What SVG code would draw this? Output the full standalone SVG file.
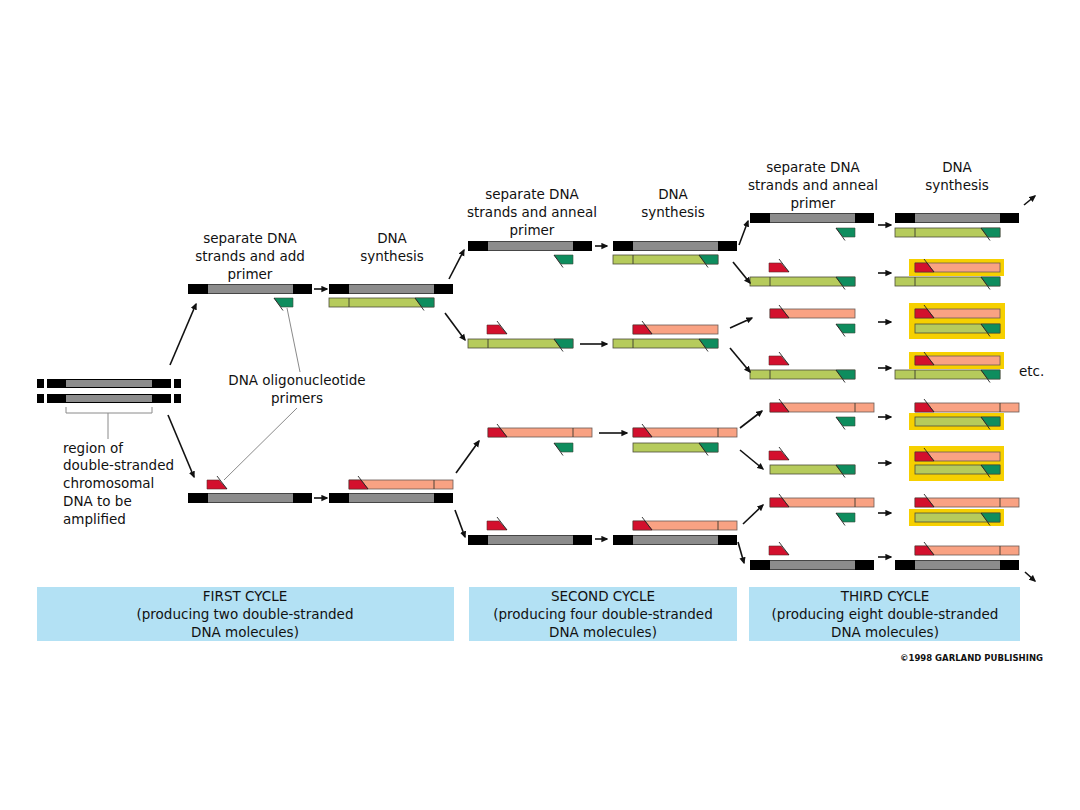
<svg xmlns="http://www.w3.org/2000/svg" width="1080" height="810" viewBox="0 0 1080 810">
<style>
text{font-family:"DejaVu Sans","Liberation Sans",sans-serif;font-size:13.5px;fill:#111}
.c{text-anchor:middle}
.lg{fill:#b6cb5c;stroke:#4d4d3a;stroke-width:0.8}
.dg{fill:#0e8d5e;stroke:#3a4a3a;stroke-width:0.6}
.sa{fill:#f9a283;stroke:#6a5a55;stroke-width:0.8}
.rd{fill:#d3102d;stroke:#5a2a2a;stroke-width:0.6}
.dv{stroke:#3a3a30;stroke-width:0.9}
.tl{stroke:#222;stroke-width:0.9}
.yb{fill:#f6d000}
.bx{fill:#b3e1f4}
.ar{stroke:#111;stroke-width:1.6;fill:none;marker-end:url(#ah)}
.lbl{stroke:#8a8a8a;stroke-width:1;fill:none}
</style>
<defs>
<marker id="ah" viewBox="0 0 10 10" refX="8" refY="5" markerWidth="7" markerHeight="7" markerUnits="userSpaceOnUse" orient="auto"><path d="M0,0.5 L10,5 L0,9.5 Z" fill="#111"/></marker>
<g id="duplex"><rect width="124" height="10" fill="#000"/><rect x="20" y="0.5" width="85" height="9" fill="#8c8c8c"/></g>
<g id="gfull"><rect width="105" height="9" class="lg"/><path d="M86,0 H105 V9 H93 Z" class="dg"/><line x1="20" y1="0" x2="20" y2="9" class="dv"/><line x1="86" y1="0" x2="95" y2="12.5" class="tl"/></g>
<g id="gshort"><rect x="20" width="85" height="9" class="lg"/><path d="M86,0 H105 V9 H93 Z" class="dg"/><line x1="86" y1="0" x2="95" y2="12.5" class="tl"/></g>
<g id="gprim"><path d="M86,0 H105 V9 H93 Z" class="dg"/><line x1="86" y1="0" x2="95" y2="12.5" class="tl"/></g>
<g id="sfull"><rect x="20" width="104" height="9" class="sa"/><path d="M20,0 H32 L39,9 H20 Z" class="rd"/><line x1="105" y1="0" x2="105" y2="9" class="dv"/><line x1="39" y1="9" x2="29" y2="-4" class="tl"/></g>
<g id="sshort"><rect x="20" width="85" height="9" class="sa"/><path d="M20,0 H32 L39,9 H20 Z" class="rd"/><line x1="39" y1="9" x2="29" y2="-4" class="tl"/></g>
<g id="rprim"><path d="M19,0 H31 L39,9 H19 Z" class="rd"/><line x1="39" y1="9" x2="29" y2="-4" class="tl"/></g>
</defs>
<rect width="1080" height="810" fill="#fff"/>

<g id="chromosome">
<rect x="37" y="379" width="7" height="9" fill="#000"/><rect x="47" y="379" width="124" height="9" fill="#000"/><rect x="66" y="380" width="86" height="7" fill="#8c8c8c"/><rect x="174" y="379" width="7" height="9" fill="#000"/>
<rect x="37" y="394" width="7" height="9" fill="#000"/><rect x="47" y="394" width="124" height="9" fill="#000"/><rect x="66" y="395" width="86" height="7" fill="#8c8c8c"/><rect x="174" y="394" width="7" height="9" fill="#000"/>
<path d="M66,407 V413 H152 V407 M108,413 V439" class="lbl"/>
<text x="63" y="453">region of</text>
<text x="63" y="470">double-stranded</text>
<text x="63" y="488">chromosomal</text>
<text x="63" y="506">DNA to be</text>
<text x="63" y="524">amplified</text>
</g>

<g id="primers-label">
<text x="297" y="385" class="c">DNA oligonucleotide</text>
<text x="297" y="403" class="c">primers</text>
<path d="M300,372 L287,308 M297,408 L224,480" class="lbl"/>
</g>

<g id="headers">
<text x="250" y="243" class="c">separate DNA</text><text x="250" y="261" class="c">strands and add</text><text x="250" y="279" class="c">primer</text>
<text x="392" y="243" class="c">DNA</text><text x="392" y="261" class="c">synthesis</text>
<text x="532" y="199" class="c">separate DNA</text><text x="532" y="217" class="c">strands and anneal</text><text x="532" y="235" class="c">primer</text>
<text x="673" y="199" class="c">DNA</text><text x="673" y="217" class="c">synthesis</text>
<text x="813" y="172" class="c">separate DNA</text><text x="813" y="190" class="c">strands and anneal</text><text x="813" y="208" class="c">primer</text>
<text x="957" y="172" class="c">DNA</text><text x="957" y="190" class="c">synthesis</text>
</g>

<g id="cycle1">
<g id="c1-a-sep"><use href="#duplex" x="188" y="284"/><use href="#gprim" x="188" y="298"/></g>
<g id="c1-a-syn"><use href="#duplex" x="329" y="284"/><use href="#gfull" x="329" y="298"/></g>
<g id="c1-b-sep"><use href="#rprim" x="188" y="480"/><use href="#duplex" x="188" y="493"/></g>
<g id="c1-b-syn"><use href="#sfull" x="329" y="480"/><use href="#duplex" x="329" y="493"/></g>
</g>

<g id="cycle2">
<g id="c2-a-sep"><use href="#duplex" x="468" y="241"/><use href="#gprim" x="468" y="255"/></g>
<g id="c2-a-syn"><use href="#duplex" x="613" y="241"/><use href="#gfull" x="613" y="255"/></g>
<g id="c2-b-sep"><use href="#rprim" x="468" y="325"/><use href="#gfull" x="468" y="339"/></g>
<g id="c2-b-syn"><use href="#sshort" x="613" y="325"/><use href="#gfull" x="613" y="339"/></g>
<g id="c2-c-sep"><use href="#sfull" x="468" y="428"/><use href="#gprim" x="468" y="443"/></g>
<g id="c2-c-syn"><use href="#sfull" x="613" y="428"/><use href="#gshort" x="613" y="443"/></g>
<g id="c2-d-sep"><use href="#rprim" x="468" y="521"/><use href="#duplex" x="468" y="535"/></g>
<g id="c2-d-syn"><use href="#sfull" x="613" y="521"/><use href="#duplex" x="613" y="535"/></g>
</g>

<g id="cycle3">
<g id="c3-1-sep"><use href="#duplex" x="750" y="213"/><use href="#gprim" x="750" y="228"/></g>
<g id="c3-1-syn"><use href="#duplex" x="895" y="213"/><use href="#gfull" x="895" y="228"/></g>
<g id="c3-2-sep"><use href="#rprim" x="750" y="263"/><use href="#gfull" x="750" y="277"/></g>
<g id="c3-2-syn"><rect x="909" y="259" width="95" height="17" class="yb"/><use href="#sshort" x="895" y="263"/><use href="#gfull" x="895" y="277"/></g>
<g id="c3-3-sep"><use href="#sshort" x="750" y="309"/><use href="#gprim" x="750" y="324"/></g>
<g id="c3-3-syn"><rect x="909" y="303" width="96" height="36" class="yb"/><use href="#sshort" x="895" y="309"/><use href="#gshort" x="895" y="324"/></g>
<g id="c3-4-sep"><use href="#rprim" x="750" y="356"/><use href="#gfull" x="750" y="370"/></g>
<g id="c3-4-syn"><rect x="909" y="352" width="95" height="17" class="yb"/><use href="#sshort" x="895" y="356"/><use href="#gfull" x="895" y="370"/></g>
<g id="c3-5-sep"><use href="#sfull" x="750" y="403"/><use href="#gprim" x="750" y="417"/></g>
<g id="c3-5-syn"><rect x="909" y="413" width="95" height="17" class="yb"/><use href="#sfull" x="895" y="403"/><use href="#gshort" x="895" y="417"/></g>
<g id="c3-6-sep"><use href="#rprim" x="750" y="451"/><use href="#gshort" x="750" y="465"/></g>
<g id="c3-6-syn"><rect x="909" y="446" width="95" height="35" class="yb"/><use href="#sshort" x="895" y="452"/><use href="#gshort" x="895" y="465"/></g>
<g id="c3-7-sep"><use href="#sfull" x="750" y="498"/><use href="#gprim" x="750" y="513"/></g>
<g id="c3-7-syn"><rect x="909" y="509" width="95" height="17" class="yb"/><use href="#sfull" x="895" y="498"/><use href="#gshort" x="895" y="513"/></g>
<g id="c3-8-sep"><use href="#rprim" x="750" y="546"/><use href="#duplex" x="750" y="560"/></g>
<g id="c3-8-syn"><use href="#sfull" x="895" y="546"/><use href="#duplex" x="895" y="560"/></g>
<text x="1019" y="376">etc.</text>
</g>

<g id="connectors">
<path class="ar" d="M170,365 L196,304"/>
<path class="ar" d="M168,415 L194,477"/>
<path class="ar" d="M314,289 H327"/>
<path class="ar" d="M314,498 H327"/>
<path class="ar" d="M449,279 L464,250"/>
<path class="ar" d="M445,313 L465,340"/>
<path class="ar" d="M456,473 L479,441"/>
<path class="ar" d="M455,510 L465,537"/>
<path class="ar" d="M595,246 H607"/>
<path class="ar" d="M580,344 H607"/>
<path class="ar" d="M599,433 H627"/>
<path class="ar" d="M595,539 H607"/>
<path class="ar" d="M739,245 L748,221"/>
<path class="ar" d="M733,262 L750,283"/>
<path class="ar" d="M730,328 L752,318"/>
<path class="ar" d="M730,348 L750,372"/>
<path class="ar" d="M740,428 L762,411"/>
<path class="ar" d="M740,450 L763,469"/>
<path class="ar" d="M743,524 L763,505"/>
<path class="ar" d="M738,542 L744,563"/>
<path class="ar" d="M878,225 H891"/>
<path class="ar" d="M878,273 H891"/>
<path class="ar" d="M878,322 H891"/>
<path class="ar" d="M878,368 H891"/>
<path class="ar" d="M878,417 H891"/>
<path class="ar" d="M878,463 H891"/>
<path class="ar" d="M878,513 H891"/>
<path class="ar" d="M878,557 H891"/>
<path class="ar" d="M1024,205 L1035,196"/>
<path class="ar" d="M1025,572 L1035,581"/>
</g>

<g id="cycle-boxes">
<rect x="37" y="587" width="417" height="54" class="bx"/>
<text x="245" y="601" class="c">FIRST CYCLE</text><text x="245" y="619" class="c">(producing two double-stranded</text><text x="245" y="637" class="c">DNA molecules)</text>
<rect x="469" y="587" width="268" height="54" class="bx"/>
<text x="603" y="601" class="c">SECOND CYCLE</text><text x="603" y="619" class="c">(producing four double-stranded</text><text x="603" y="637" class="c">DNA molecules)</text>
<rect x="749" y="587" width="271" height="54" class="bx"/>
<text x="885" y="601" class="c">THIRD CYCLE</text><text x="885" y="619" class="c">(producing eight double-stranded</text><text x="885" y="637" class="c">DNA molecules)</text>
</g>
<text x="1043" y="661" style="font-size:8.5px;font-weight:bold;text-anchor:end">©1998 GARLAND PUBLISHING</text>
</svg>
